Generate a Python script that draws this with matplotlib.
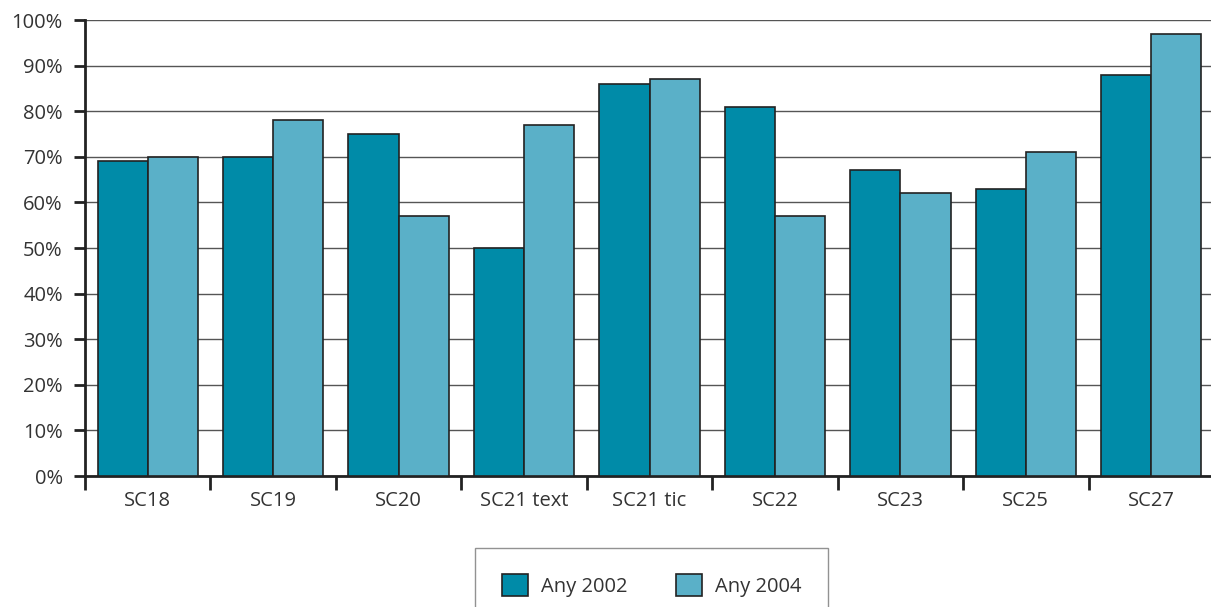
import matplotlib
matplotlib.use("Agg")
import matplotlib.pyplot as plt
import numpy as np

categories = ["SC18", "SC19", "SC20", "SC21 text", "SC21 tic", "SC22", "SC23", "SC25", "SC27"]
any_2002 = [69, 70, 75, 50, 86, 81, 67, 63, 88]
any_2004 = [70, 78, 57, 77, 87, 57, 62, 71, 97]
y_ticks = [0, 10, 20, 30, 40, 50, 60, 70, 80, 90, 100]

plt.rcParams['font.family'] = ['Open Sans', 'DejaVu Sans']
text_color = '#333333'
fs = 14.5

fig = plt.figure(figsize=(12.11, 6.07), dpi=100)
ax = fig.add_axes([85/1211, 1-476/607, (1214-85)/1211, (476-20)/607])

x = np.arange(len(categories)) + 0.5
w = 0.4
ax.bar(x - w/2, any_2002, width=w, color='#008BA8', edgecolor='#222222', linewidth=1.2, label='Any 2002', zorder=3)
ax.bar(x + w/2, any_2004, width=w, color='#5AB0C8', edgecolor='#222222', linewidth=1.2, label='Any 2004', zorder=3)

ax.set_xlim(0, len(categories))
ax.set_ylim(0, 100)
ax.set_yticks(y_ticks)
ax.set_yticklabels([f"{v}%" for v in y_ticks], fontsize=fs, color=text_color)
ax.yaxis.grid(True, color='#555555', linewidth=1, zorder=0)
ax.set_axisbelow(True)

ax.set_xticks(np.arange(len(categories) + 1))
ax.set_xticklabels([''] * (len(categories) + 1))
ax.set_xticks(x, minor=True)
ax.set_xticklabels(categories, minor=True, fontsize=fs, color=text_color)
ax.tick_params(axis='x', which='major', length=10, width=2, color='#222222', direction='out')
ax.tick_params(axis='x', which='minor', length=0, pad=11)
ax.tick_params(axis='y', length=8, width=2, color='#222222', direction='out', pad=8)

for s in ['top', 'right']:
    ax.spines[s].set_visible(False)
for s in ['left', 'bottom']:
    ax.spines[s].set_color('#222222')
    ax.spines[s].set_linewidth(2)

leg = fig.legend(loc='upper center', bbox_to_anchor=(651.5/1211, 1-548/607), ncol=2,
                 fontsize=fs, frameon=True, fancybox=False, edgecolor='#777777',
                 borderpad=1.3, handlelength=1.3, handleheight=1.3, columnspacing=2.4,
                 handletextpad=0.65, borderaxespad=0)
for t in leg.get_texts():
    t.set_color(text_color)
leg.get_frame().set_linewidth(1)

fig.savefig('out.png', dpi=100)
